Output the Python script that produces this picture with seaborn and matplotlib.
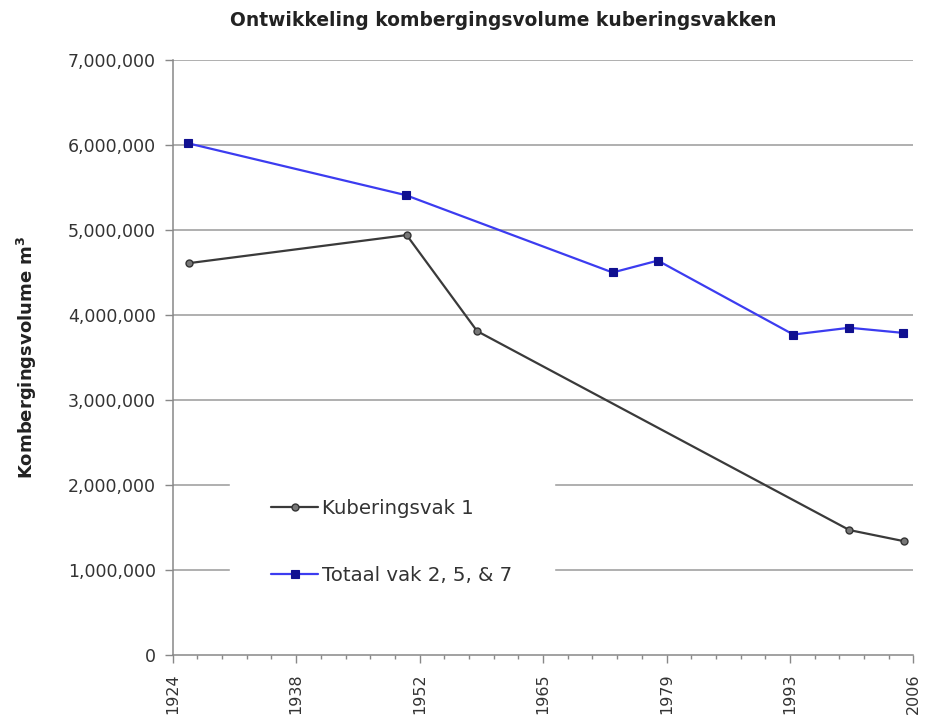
import matplotlib
matplotlib.use("Agg")
import matplotlib.pyplot as plt
from matplotlib.ticker import FuncFormatter, AutoMinorLocator, FixedLocator
import numpy as np
import pandas as pd
import seaborn as sns

# Measurement years (decimal) and storage volumes in m3
years_vak1 = [1925.8, 1949.9, 1957.7, 1998.9, 2004.9]
volume_vak1 = [4610000, 4940000, 3810000, 1470000, 1340000]

years_totaal = [1925.7, 1949.8, 1972.7, 1977.7, 1992.7, 1998.9, 2004.8]
volume_totaal = [6020000, 5410000, 4500000, 4640000, 3770000, 3850000, 3790000]

series_names = ["Kuberingsvak 1", "Totaal vak 2, 5, & 7"]
x_tick_labels = ["1924", "1938", "1952", "1965", "1979", "1993", "2006"]
y_ticks = [0, 1000000, 2000000, 3000000, 4000000, 5000000, 6000000, 7000000]

df = pd.concat([
    pd.DataFrame({"jaar": years_vak1, "volume": volume_vak1, "reeks": series_names[0]}),
    pd.DataFrame({"jaar": years_totaal, "volume": volume_totaal, "reeks": series_names[1]}),
], ignore_index=True)

sns.set_style("white")
plt.rcParams["font.family"] = ["DejaVu Sans"]

fig = plt.figure(figsize=(9.26, 7.15), dpi=100)
ax = fig.add_axes([0.1865, 0.0839, 0.8, 0.8322])

x_min, x_max = 1924, 2006

# horizontal gridlines
for v in y_ticks[1:]:
    ax.axhline(v, color="#9a9a9a", lw=1.1, zorder=0)

sns.lineplot(data=df[df.reeks == series_names[0]], x="jaar", y="volume",
             color="#3a3a3a", lw=1.6, marker="o", markersize=5,
             markerfacecolor="#777777", markeredgecolor="#333333",
             markeredgewidth=1.0, label=series_names[0], ax=ax, zorder=3)
sns.lineplot(data=df[df.reeks == series_names[1]], x="jaar", y="volume",
             color="#3c3cf0", lw=1.6, marker="s", markersize=5.5,
             markerfacecolor="#101090", markeredgecolor="#101090",
             markeredgewidth=0.8, label=series_names[1], ax=ax, zorder=3)

ax.set_xlim(x_min, x_max)
ax.set_ylim(0, 7000000)

major_pos = np.linspace(x_min, x_max, len(x_tick_labels))
ax.xaxis.set_major_locator(FixedLocator(major_pos))
ax.set_xticklabels(x_tick_labels, rotation=90, fontsize=11.5, color="#333333")
ax.xaxis.set_minor_locator(AutoMinorLocator(5))
ax.tick_params(axis="x", which="major", direction="out", length=6, width=1,
               color="#888888", pad=7, bottom=True)
ax.tick_params(axis="x", which="minor", direction="out", length=3, width=1,
               color="#888888", bottom=True)

ax.set_yticks(y_ticks)
ax.yaxis.set_major_formatter(FuncFormatter(lambda v, p: f"{int(v):,}"))
ax.tick_params(axis="y", which="major", direction="out", length=6, width=1,
               color="#888888", labelsize=12.5, labelcolor="#333333", pad=6, left=True)

for s in ["top", "right"]:
    ax.spines[s].set_visible(False)
for s in ["left", "bottom"]:
    ax.spines[s].set_color("#888888")
    ax.spines[s].set_linewidth(1.1)

ax.set_xlabel("")
ax.set_ylabel("Kombergingsvolume m$^{\\mathbf{3}}$", fontsize=13,
              fontweight="bold", color="#222222", labelpad=21)

fig.suptitle("Ontwikkeling kombergingsvolume kuberingsvakken", fontsize=13.4,
             fontweight="bold", color="#222222", x=0.543, y=0.985)

leg = ax.legend(loc="upper left", bbox_to_anchor=(0.077, 0.332), fontsize=14.2,
                frameon=True, facecolor="white", edgecolor="white", framealpha=1,
                borderpad=2.1, labelspacing=2.42, handlelength=2.38,
                handletextpad=0.2, borderaxespad=0)
for t in leg.get_texts():
    t.set_color("#333333")
leg.set_zorder(5)

fig.savefig("out.png", dpi=100)
